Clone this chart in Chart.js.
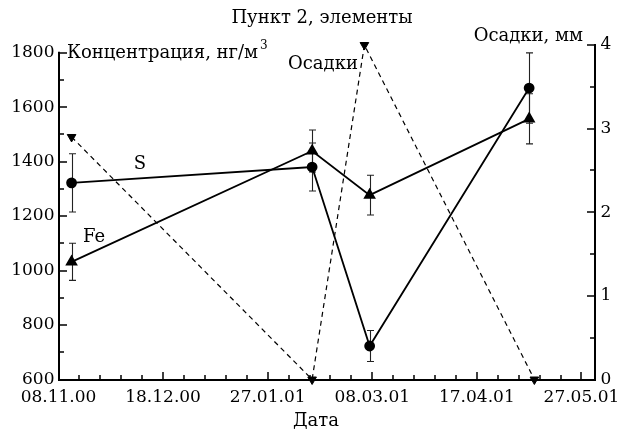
<!DOCTYPE html>
<html>
<head>
<meta charset="utf-8">
<script src="https://cdn.jsdelivr.net/npm/chart.js@4"></script>
<style>
  html, body { margin: 0; padding: 0; background: #fff; }
  canvas { display: block; }
</style>
</head>
<body>
<canvas id="c" width="628" height="439"></canvas>
<script>
// ---- Data ----
const originDate = "08.11.00";          // x axis start
const axisEndDate = "01.06.01";         // x axis end
const concDates = ["13.11.00", "13.02.01", "07.03.01", "07.05.01"];
const sValues  = [1322, 1380, 723, 1670];
const sErrors  = [107, 88, 57, 129];
const feValues = [1032, 1439, 1277, 1557];
const feErrors = [68, 77, 73, 92];
const precipDates  = ["13.11.00", "13.02.01", "05.03.01", "09.05.01"];
const precipValues = [2.9, 0, 4.0, 0];
const leftTickLabels  = [600, 800, 1000, 1200, 1400, 1600, 1800];
const rightTickLabels = [0, 1, 2, 3, 4];
const xTickStepDays = 40;

const titleText = "Пункт 2, элементы";
const yTitleText = "Концентрация, нг/м";
const yTitleSup = "3";
const y2TitleText = "Осадки, мм";
const precipLabel = "Осадки";
const xTitleText = "Дата";
const sLabel = "S";
const feLabel = "Fe";

// ---- helpers ----
const DAY = 86400000;
function toUTC(s) {
  const [d, m, y] = s.split(".").map(Number);
  return Date.UTC(2000 + y, m - 1, d);
}
const ORIGIN = toUTC(originDate);
function dayOf(s) { return Math.round((toUTC(s) - ORIGIN) / DAY); }
function fmtDay(v) {
  const dt = new Date(ORIGIN + v * DAY);
  const p = n => String(n).padStart(2, "0");
  return p(dt.getUTCDate()) + "." + p(dt.getUTCMonth() + 1) + "." + p(dt.getUTCFullYear() % 100);
}
const xMax = dayOf(axisEndDate);

const sData  = concDates.map((d, i) => ({ x: dayOf(d), y: sValues[i] }));
const feData = concDates.map((d, i) => ({ x: dayOf(d), y: feValues[i] }));
const prData = precipDates.map((d, i) => ({ x: dayOf(d), y: precipValues[i] }));

const FONT = "'DejaVu Serif', 'Liberation Serif', serif";

const customPlugin = {
  id: "custom",
  beforeDatasetsDraw(chart) {
    const ctx = chart.ctx;
    const x = chart.scales.x, y = chart.scales.y;
    ctx.save();
    ctx.strokeStyle = "#222";
    ctx.lineWidth = 1.1;
    const cap = 3.5;
    const drawErr = (data, errs) => {
      data.forEach((p, i) => {
        const px = Math.round(x.getPixelForValue(p.x)) + 0.5;
        const yt = y.getPixelForValue(p.y + errs[i]);
        const yb = y.getPixelForValue(p.y - errs[i]);
        ctx.beginPath();
        ctx.moveTo(px, yt); ctx.lineTo(px, yb);
        ctx.moveTo(px - cap, yt); ctx.lineTo(px + cap, yt);
        ctx.moveTo(px - cap, yb); ctx.lineTo(px + cap, yb);
        ctx.stroke();
      });
    };
    drawErr(sData, sErrors);
    drawErr(feData, feErrors);
    ctx.restore();
  },
  afterDraw(chart) {
    const ctx = chart.ctx;
    const x = chart.scales.x, y = chart.scales.y, y2 = chart.scales.y2;
    const ca = chart.chartArea;
    ctx.save();
    ctx.strokeStyle = "#000";
    ctx.lineWidth = 2;
    const L = Math.round(ca.left), R = Math.round(ca.right), B = Math.round(ca.bottom);
    // axis lines
    ctx.beginPath();
    ctx.moveTo(L, y.getPixelForValue(leftTickLabels[leftTickLabels.length - 1]) - 1);
    ctx.lineTo(L, B);
    ctx.lineTo(R, B);
    ctx.lineTo(R, y2.getPixelForValue(rightTickLabels[rightTickLabels.length - 1]) - 1);
    ctx.stroke();
    // inward ticks
    ctx.lineWidth = 1.5;
    ctx.beginPath();
    y.ticks.forEach(t => {
      if (t.value % 100 !== 0 || t.value > 1800) return;
      const py = Math.round(y.getPixelForValue(t.value));
      const len = (t.value % 200 === 0) ? 8 : 5;
      ctx.moveTo(L, py); ctx.lineTo(L + len, py);
    });
    y2.ticks.forEach(t => {
      if (Math.abs(t.value * 2 - Math.round(t.value * 2)) > 1e-6 || t.value > 4) return;
      const py = Math.round(y2.getPixelForValue(t.value));
      const len = Number.isInteger(t.value) ? 8 : 5;
      ctx.moveTo(R, py); ctx.lineTo(R - len, py);
    });
    x.ticks.forEach(t => {
      if (t.value % 8 !== 0 || t.value <= 0) return;
      const px = Math.round(x.getPixelForValue(t.value));
      const len = (t.value % xTickStepDays === 0) ? 8 : 5;
      ctx.moveTo(px, B); ctx.lineTo(px, B - len);
    });
    ctx.stroke();

    // texts
    ctx.fillStyle = "#000";
    ctx.textBaseline = "middle";
    ctx.textAlign = "center";
    ctx.font = "18px " + FONT;
    ctx.fillText(titleText, 322, 18);
    ctx.font = "18px " + FONT;
    ctx.fillText(xTitleText, 316, 421);
    ctx.font = "18px " + FONT;
    ctx.textAlign = "left";
    ctx.fillText(yTitleText, 67, 53);
    const w = ctx.measureText(yTitleText).width;
    ctx.font = "12px " + FONT;
    ctx.fillText(yTitleSup, 67 + w + 2, 46);
    ctx.font = "18px " + FONT;
    ctx.textAlign = "right";
    ctx.fillText(y2TitleText, 583, 36);
    ctx.textAlign = "left";
    ctx.fillText(precipLabel, 288, 64);
    ctx.textAlign = "center";
    ctx.fillText(sLabel, 140, 164);
    ctx.fillText(feLabel, 94, 237);
    ctx.restore();
  }
};

new Chart(document.getElementById("c"), {
  type: "scatter",
  data: {
    datasets: [
      {
        label: sLabel, data: sData, yAxisID: "y", showLine: true,
        borderColor: "#000", backgroundColor: "#000", borderWidth: 1.8,
        pointStyle: "circle", pointRadius: 4.5, pointHoverRadius: 4.5, clip: false
      },
      {
        label: feLabel, data: feData, yAxisID: "y", showLine: true,
        borderColor: "#000", backgroundColor: "#000", borderWidth: 1.8,
        pointStyle: "triangle", pointRadius: 5.5, pointHoverRadius: 5.5, clip: false
      },
      {
        label: precipLabel, data: prData, yAxisID: "y2", showLine: true,
        borderColor: "#000", backgroundColor: "#000", borderWidth: 1.2, borderDash: [5, 4],
        pointStyle: "triangle", pointRotation: 180, pointRadius: 5, pointHoverRadius: 5,
        pointBorderWidth: 1, clip: false
      }
    ]
  },
  options: {
    responsive: false,
    animation: false,
    events: [],
    layout: { padding: { top: 45, left: 0, right: 0, bottom: 0 } },
    plugins: { legend: { display: false }, title: { display: false }, tooltip: { enabled: false } },
    scales: {
      x: {
        type: "linear", min: 0, max: xMax,
        afterFit: s => { s.height = 59.5; },
        grid: { display: true, drawOnChartArea: false, drawTicks: false },
        border: { display: false },
        ticks: {
          stepSize: 8, autoSkip: false, maxRotation: 0, padding: 8, includeBounds: false,
          color: "#000", font: { family: FONT, size: 17 },
          callback: v => (v % xTickStepDays === 0) ? fmtDay(v) : ""
        }
      },
      y: {
        type: "linear", position: "left", min: 600, max: 1828,
        afterFit: s => { s.width = 58.5; },
        grid: { display: true, drawOnChartArea: false, drawTicks: false },
        border: { display: false },
        ticks: {
          stepSize: 100, autoSkip: false, padding: 4, includeBounds: false,
          color: "#000", font: { family: FONT, size: 17 },
          callback: v => leftTickLabels.includes(v) ? String(v) : ""
        }
      },
      y2: {
        type: "linear", position: "right", min: 0, max: 4,
        afterFit: s => { s.width = 29.5; },
        grid: { display: true, drawOnChartArea: false, drawTicks: false },
        border: { display: false },
        ticks: {
          stepSize: 0.5, autoSkip: false, padding: 6,
          color: "#000", font: { family: FONT, size: 17 },
          callback: v => rightTickLabels.includes(v) ? String(v) : ""
        }
      }
    }
  },
  plugins: [customPlugin]
});
</script>
</body>
</html>
